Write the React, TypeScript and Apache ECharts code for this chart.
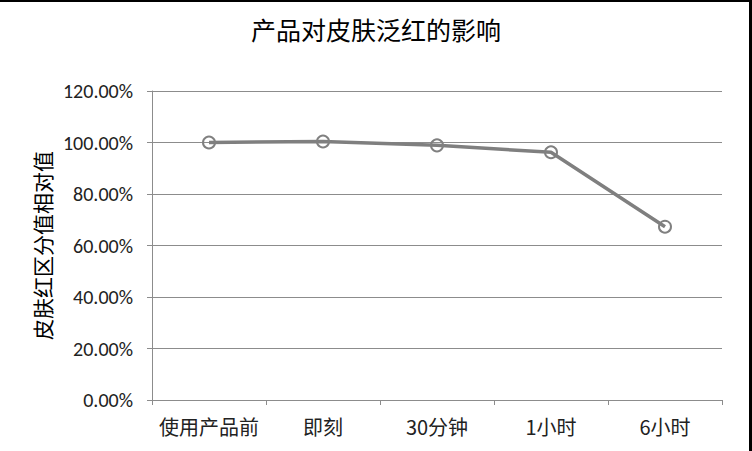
import React, { useEffect, useRef } from "react";
import * as echarts from "echarts";

const categories = ["使用产品前", "即刻", "30分钟", "1小时", "6小时"];
const values = [1.0, 1.004, 0.989, 0.962, 0.673];
const titleText = "产品对皮肤泛红的影响";
const yAxisName = "皮肤红区分值相对值";

export default function App() {
  const ref = useRef<HTMLDivElement>(null);
  useEffect(() => {
    document.body.style.margin = "0";
    const chart = echarts.init(ref.current!, null, { renderer: "svg" });
    chart.setOption({
      animation: false,
      backgroundColor: "#ffffff",
      title: {
        text: titleText,
        left: "center",
        top: 11,
        textStyle: {
          fontFamily: "'Noto Sans CJK SC', serif",
          fontSize: 25,
          fontWeight: "normal",
          color: "#000000",
        },
      },
      grid: { left: 152, right: 30, top: 91, bottom: 51 },
      xAxis: {
        type: "category",
        data: categories,
        boundaryGap: true,
        axisLine: { lineStyle: { color: "#8c8c8c", width: 1 } },
        axisTick: { show: true, interval: 0, length: 5, lineStyle: { color: "#8c8c8c" } },
        axisLabel: {
          interval: 0,
          fontFamily: "'Noto Sans CJK SC', sans-serif",
          fontSize: 20,
          color: "#222222",
          margin: 16,
        },
        splitLine: { show: false },
      },
      yAxis: {
        type: "value",
        min: 0,
        max: 1.2,
        interval: 0.2,
        name: yAxisName,
        nameLocation: "middle",
        nameGap: 96,
        nameTextStyle: {
          fontFamily: "'Noto Sans CJK SC', serif",
          fontSize: 21,
          color: "#000000",
        },
        axisLine: { show: true, lineStyle: { color: "#8c8c8c", width: 1 } },
        axisTick: { show: true, length: 5, lineStyle: { color: "#8c8c8c" } },
        axisLabel: {
          formatter: (v: number) => (v * 100).toFixed(2) + "%",
          fontFamily: "Carlito, Lato, sans-serif",
          fontSize: 20,
          color: "#222222",
          margin: 19,
        },
        splitLine: { show: true, lineStyle: { color: "#8c8c8c", width: 1 } },
      },
      series: [
        {
          type: "line",
          data: values,
          symbol: "circle",
          symbolSize: 12,
          lineStyle: { color: "#7f7f7f", width: 3.5 },
          itemStyle: {
            color: "rgba(255,255,255,0)",
            borderColor: "#808080",
            borderWidth: 2,
          },
          z: 3,
        },
      ],
      graphic: [
        {
          type: "rect",
          shape: { x: 0, y: 0, width: 752, height: 2 },
          style: { fill: "#000000" },
        },
        {
          type: "rect",
          shape: { x: 749, y: 0, width: 3, height: 451 },
          style: { fill: "#000000" },
        },
      ],
    });
    return () => chart.dispose();
  }, []);
  return <div ref={ref} style={{ width: 752, height: 451 }} />;
}
